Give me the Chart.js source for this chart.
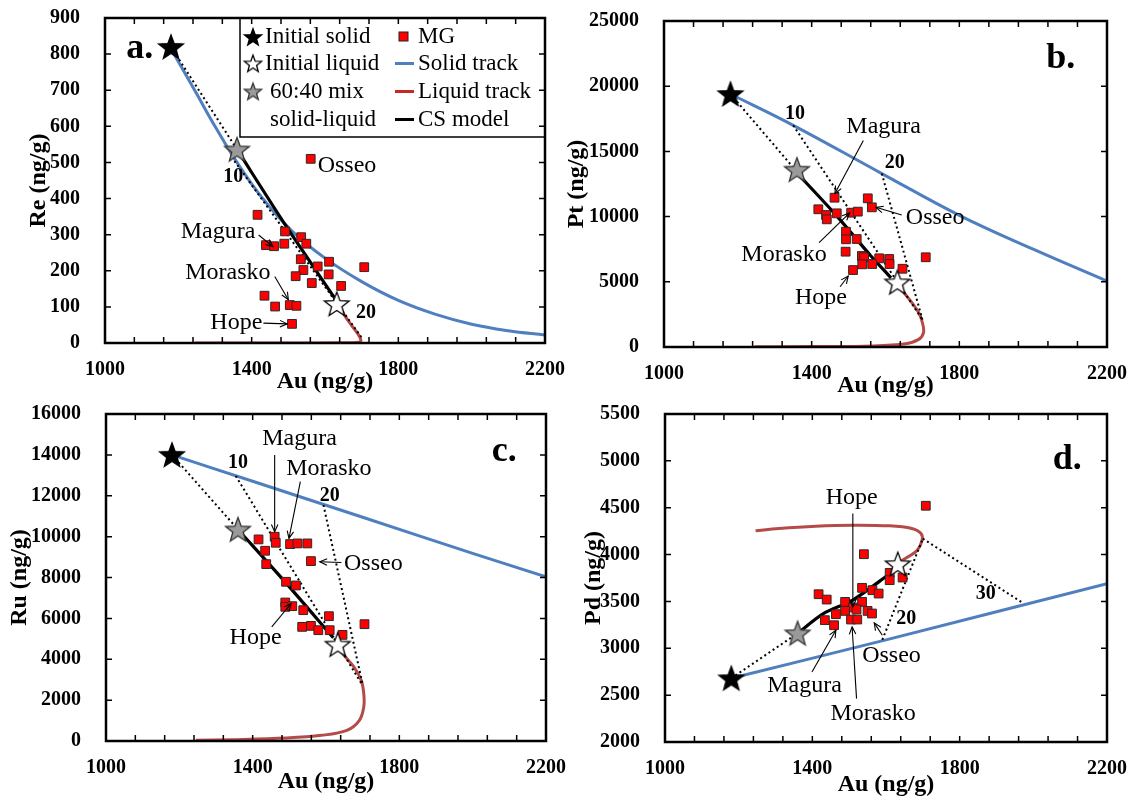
<!DOCTYPE html>
<html>
<head>
<meta charset="utf-8">
<script src="https://cdn.jsdelivr.net/npm/chart.js@4/dist/chart.umd.min.js"></script>
<style>
  html, body { margin: 0; padding: 0; background: #fff; }
  #wrap { position: relative; width: 1137px; height: 804px; overflow: hidden; background: #fff; }
  canvas { position: absolute; }
</style>
</head>
<body>
<div id="wrap">
  <canvas id="chartA" width="580" height="400" style="left:0;top:0"></canvas>
  <canvas id="chartB" width="577" height="400" style="left:560px;top:0"></canvas>
  <canvas id="chartC" width="580" height="404" style="left:0;top:400px"></canvas>
  <canvas id="chartD" width="577" height="404" style="left:560px;top:400px"></canvas>
</div>
<script>
const FONT = '"Liberation Serif", "Times New Roman", serif';
const BLUE = '#4f7fbf';
const RED = '#b44b48';

// x axis (Au, ng/g)
const xMin = 1000, xMax = 2200, xMinorStep = 80;
const xLabels = [1000, 1400, 1800, 2200];

// stars: initial solid, 60:40 mix, initial liquid
const starAu = [1180, 1360, 1632];
const starRe = [820, 536, 108];
const starPt = [19400, 13600, 4960];
const starRu = [14000, 10350, 4718];
const starPd = [2680, 3160, 3898];

// MG samples
const mgAuA = [1561, 1416, 1491, 1439, 1461, 1489, 1535, 1549, 1534, 1611, 1580, 1541, 1520, 1610, 1707, 1564, 1644, 1435, 1464, 1504, 1522, 1510];
const mgReA = [510, 355, 309, 271, 268, 275, 293, 275, 232, 225, 212, 202, 185, 190, 210, 166, 158, 131, 101, 105, 103, 53];

const mgAuB = [1462, 1552, 1563, 1418, 1439, 1441, 1468, 1507, 1525, 1493, 1493, 1522, 1492, 1536, 1542, 1583, 1610, 1611, 1537, 1564, 1512, 1646, 1709];
const mgPtB = [11450, 11400, 10710, 10560, 10120, 9790, 10250, 10300, 10380, 8840, 8260, 8280, 7310, 6980, 6880, 6800, 6750, 6365, 6340, 6365, 5900, 6000, 6880];

const mgAuC = [1416, 1460, 1463, 1434, 1437, 1502, 1522, 1549, 1559, 1491, 1518, 1489, 1489, 1508, 1538, 1608, 1705, 1535, 1559, 1579, 1610, 1645];
const mgRuC = [9863, 9994, 9700, 9308, 8655, 9635, 9667, 9667, 8802, 7790, 7610, 6777, 6565, 6597, 6401, 6107, 5716, 5585, 5634, 5422, 5422, 5193];

const mgAuD = [1708, 1540, 1417, 1439, 1535, 1563, 1580, 1610, 1610, 1645, 1489, 1535, 1510, 1520, 1489, 1550, 1562, 1464, 1434, 1459, 1505, 1522];
const mgPdD = [4521, 4004, 3577, 3520, 3645, 3620, 3584, 3805, 3727, 3755, 3495, 3495, 3435, 3414, 3399, 3399, 3371, 3364, 3300, 3246, 3307, 3307];

// model tracks, [Au, element] pairs
const solidTrackA = [[1180, 815], [1250, 690], [1300, 600], [1360, 500], [1430, 400], [1510, 310], [1600, 235], [1700, 170], [1800, 118], [1900, 80], [2000, 52], [2100, 34], [2200, 22]];
const liquidTrackA = [[1635, 108], [1650, 82], [1670, 52], [1688, 28], [1698, 8], [1692, 2], [1640, 0.5], [1500, 0], [1245, 0]];
const csModelA = [[1360, 536], [1495, 322], [1628, 122]];
const tieLinesA = [[[1180, 820], [1360, 536]], [[1345, 515], [1700, 15]]];

const solidTrackB = [[1180, 19400], [1350, 17000], [1590, 13300], [1800, 10100], [2000, 7500], [2200, 5050]];
const liquidTrackB = [[1627, 4960], [1665, 3640], [1690, 2620], [1700, 1860], [1703, 1100], [1690, 585], [1655, 255], [1565, 80], [1400, 30], [1245, 15]];
const csModelB = [[1355, 13500], [1460, 10300], [1560, 7000], [1615, 5300]];
const tieLinesB = [[[1180, 19400], [1355, 13600]], [[1350, 17000], [1700, 2100]], [[1590, 13300], [1700, 2100]]];

const solidTrackC = [[1180, 14000], [1400, 12710], [1700, 10950], [2000, 9180], [2200, 8030]];
const liquidTrackC = [[1632, 4718], [1642, 4360], [1676, 3625], [1696, 2972], [1703, 2319], [1703, 1666], [1691, 1012], [1657, 522], [1588, 278], [1491, 147], [1344, 65], [1245, 33]];
const csModelC = [[1360, 10350], [1490, 7750], [1620, 5050]];
const tieLinesC = [[[1180, 14000], [1360, 10350]], [[1354, 12970], [1697, 2800]], [[1593, 11550], [1700, 2750]]];

const solidTrackD = [[1180, 2680], [1600, 3090], [2200, 3690]];
const liquidTrackD = [[1627, 3898], [1660, 3976], [1685, 4047], [1698, 4154], [1695, 4225], [1670, 4278], [1610, 4307], [1509, 4314], [1409, 4303], [1309, 4278], [1246, 4253]];
const csModelD = [[1360, 3160], [1430, 3370], [1510, 3515], [1612, 3800]];
const tieLinesD = [[[1180, 2680], [1360, 3160]], [[1590, 3090], [1700, 4170]], [[1700, 4170], [1967, 3495]]];

// crystallisation step labels
const stepLabelsA = [{ text: '10', at: [1350, 460] }, { text: '20', at: [1712, 83] }];
const stepLabelsB = [{ text: '10', at: [1355, 17900] }, { text: '20', at: [1625, 14100] }];
const stepLabelsC = [{ text: '10', at: [1360, 13620] }, { text: '20', at: [1610, 11990] }];
const stepLabelsD = [{ text: '30', at: [1871, 3584] }, { text: '20', at: [1655, 3317] }];

// sample name labels with arrows
const notesA = [
  { text: 'Osseo', at: [1580, 492], align: 'left' },
  { text: 'Magura', at: [1410, 308], align: 'right', arrow: [[1419, 299], [1458, 267]] },
  { text: 'Morasko', at: [1335, 195], arrow: [[1463, 184], [1500, 120]] },
  { text: 'Hope', at: [1429, 55], align: 'right', arrow: [[1432, 55], [1497, 53]] }
];
const notesB = [
  { text: 'Magura', at: [1595, 16860], arrow: [[1540, 15843], [1463, 11774]] },
  { text: 'Osseo', at: [1655, 9900], align: 'left', arrow: [[1644, 10120], [1574, 10710]] },
  { text: 'Morasko', at: [1325, 7060], arrow: [[1420, 8000], [1503, 10280]] },
  { text: 'Hope', at: [1425, 3760], arrow: [[1477, 4620], [1499, 5445]] }
];
const notesC = [
  { text: 'Magura', at: [1528, 14812], arrow: [[1460, 13995], [1460, 10239]] },
  { text: 'Morasko', at: [1608, 13309], arrow: [[1530, 12688], [1499, 9912]] },
  { text: 'Osseo', at: [1649, 8688], align: 'left', arrow: [[1642, 8737], [1583, 8769]] },
  { text: 'Hope', at: [1408, 5062], arrow: [[1452, 5585], [1505, 6728]] }
];
const notesD = [
  { text: 'Hope', at: [1507, 4610], arrow: [[1510, 4439], [1510, 3442]] },
  { text: 'Magura', at: [1379, 2605], arrow: [[1399, 2748], [1464, 3193]] },
  { text: 'Morasko', at: [1565, 2303], arrow: [[1520, 2463], [1508, 3228]] },
  { text: 'Osseo', at: [1615, 2926], arrow: [[1590, 3139], [1568, 3271]] }
];

function starImage(r, fill, stroke) {
  const c = document.createElement('canvas');
  const s = Math.ceil(r * 2 + 4);
  c.width = s; c.height = s;
  const g = c.getContext('2d');
  g.translate(s / 2, s / 2 + r * 0.08);
  g.beginPath();
  for (let i = 0; i < 10; i++) {
    const rad = i % 2 === 0 ? r : r * 0.42;
    const a = -Math.PI / 2 + i * Math.PI / 5;
    g.lineTo(rad * Math.cos(a), rad * Math.sin(a));
  }
  g.closePath();
  g.fillStyle = fill;
  g.fill();
  g.lineWidth = 1.3;
  g.strokeStyle = stroke;
  g.lineJoin = 'miter';
  g.stroke();
  return c;
}

const starSolid = starImage(13, '#000', '#000');
const starMix = starImage(13, '#9a9a9a', '#333');
const starLiquid = starImage(13, '#fff', '#000');
const legSolid = starImage(9, '#000', '#000');
const legMix = starImage(9, '#9a9a9a', '#333');
const legLiquid = starImage(9, '#fff', '#000');

function drawArrow(ctx, x1, y1, x2, y2) {
  ctx.beginPath();
  ctx.moveTo(x1, y1);
  ctx.lineTo(x2, y2);
  ctx.stroke();
  const ang = Math.atan2(y2 - y1, x2 - x1), h = 8;
  ctx.beginPath();
  ctx.moveTo(x2 - h * Math.cos(ang - 0.42), y2 - h * Math.sin(ang - 0.42));
  ctx.lineTo(x2, y2);
  ctx.lineTo(x2 - h * Math.cos(ang + 0.42), y2 - h * Math.sin(ang + 0.42));
  ctx.stroke();
}

function drawLegend(chart) {
  const { ctx, chartArea: a } = chart;
  const L = a.left + 135, T = a.top, R = a.right, B = a.top + 119;
  ctx.save();
  ctx.fillStyle = '#fff';
  ctx.fillRect(L, T, R - L, B - T);
  ctx.strokeStyle = '#000';
  ctx.lineWidth = 1.5;
  ctx.strokeRect(L, T, R - L, B - T);
  ctx.font = '23px ' + FONT;
  ctx.fillStyle = '#000';
  ctx.textAlign = 'left';
  ctx.textBaseline = 'middle';
  const rows = [T + 19, T + 45.5, T + 73.5, T + 101.5];
  const imgs = [legSolid, legLiquid, legMix];
  imgs.forEach((im, i) => ctx.drawImage(im, L + 13 - im.width / 2, rows[i] - im.height / 2));
  ctx.fillText('Initial solid', L + 25, rows[0]);
  ctx.fillText('Initial liquid', L + 25, rows[1]);
  ctx.fillText('60:40 mix', L + 30, rows[2]);
  ctx.fillText('solid-liquid', L + 30, rows[3]);
  // right column
  ctx.fillStyle = '#ff0000';
  ctx.fillRect(L + 159, rows[0] - 5, 9, 9);
  ctx.strokeStyle = '#222';
  ctx.lineWidth = 1;
  ctx.strokeRect(L + 159, rows[0] - 5, 9, 9);
  ctx.lineWidth = 3;
  [[BLUE, rows[1]], ['#c62828', rows[2]], ['#000', rows[3]]].forEach(([c, y]) => {
    ctx.strokeStyle = c;
    ctx.beginPath();
    ctx.moveTo(L + 155, y);
    ctx.lineTo(L + 174, y);
    ctx.stroke();
  });
  ctx.fillStyle = '#000';
  ctx.fillText('MG', L + 178, rows[0]);
  ctx.fillText('Solid track', L + 178, rows[1]);
  ctx.fillText('Liquid track', L + 178, rows[2]);
  ctx.fillText('CS model', L + 178, rows[3]);
  ctx.restore();
}

function drawFrame(chart) {
  const { ctx, chartArea: a } = chart;
  const xs = chart.scales.x, ys = chart.scales.y;
  ctx.save();
  ctx.strokeStyle = '#000';
  ctx.lineWidth = 1.5;
  ctx.beginPath();
  xs.ticks.forEach(t => {
    const x = xs.getPixelForValue(t.value);
    if (x <= a.left + 2 || x >= a.right - 2) return;
    ctx.moveTo(x, a.bottom); ctx.lineTo(x, a.bottom - 6);
    ctx.moveTo(x, a.top); ctx.lineTo(x, a.top + 6);
  });
  ys.ticks.forEach(t => {
    const y = ys.getPixelForValue(t.value);
    if (y <= a.top + 2 || y >= a.bottom - 2) return;
    ctx.moveTo(a.left, y); ctx.lineTo(a.left + 6, y);
    ctx.moveTo(a.right, y); ctx.lineTo(a.right - 6, y);
  });
  ctx.stroke();
  ctx.lineWidth = 2.5;
  ctx.strokeRect(a.left, a.top, a.right - a.left, a.bottom - a.top);
  ctx.restore();
}

function panelPlugin(p) {
  return {
    id: 'panel' + p.id,
    afterDatasetsDraw(chart) {
      const { ctx } = chart;
      const xs = chart.scales.x, ys = chart.scales.y;
      const px = v => xs.getPixelForValue(v), py = v => ys.getPixelForValue(v);
      ctx.save();
      ctx.fillStyle = '#000';
      ctx.strokeStyle = '#000';
      ctx.textBaseline = 'middle';
      ctx.font = 'bold 20px ' + FONT;
      ctx.textAlign = 'center';
      p.steps.forEach(s => ctx.fillText(s.text, px(s.at[0]), py(s.at[1])));
      ctx.font = '24px ' + FONT;
      ctx.lineWidth = 1.1;
      p.notes.forEach(n => {
        ctx.textAlign = n.align || 'center';
        ctx.fillText(n.text, px(n.at[0]), py(n.at[1]));
        if (n.arrow) drawArrow(ctx, px(n.arrow[0][0]), py(n.arrow[0][1]), px(n.arrow[1][0]), py(n.arrow[1][1]));
      });
      ctx.font = 'bold 36px ' + FONT;
      ctx.textAlign = 'center';
      ctx.fillText(p.letter, px(p.letterAt[0]), py(p.letterAt[1]));
      ctx.restore();
      if (p.legend) drawLegend(chart);
      drawFrame(chart);
    }
  };
}

const pts = arr => arr.map(([x, y]) => ({ x, y }));

function buildPanel(p) {
  const datasets = [
    {
      label: 'stars',
      data: starAu.map((x, i) => ({ x, y: p.starY[i] })),
      pointStyle: [starSolid, starMix, starLiquid],
      pointRadius: 10,
      showLine: false
    },
    {
      label: 'MG',
      data: p.mgAu.map((x, i) => ({ x, y: p.mgY[i] })),
      pointStyle: 'rect',
      pointRadius: 6.2,
      backgroundColor: '#ff0000',
      borderColor: '#2a2a2a',
      borderWidth: 1,
      showLine: false
    },
    {
      label: 'CS model',
      data: pts(p.cs),
      showLine: true,
      borderColor: '#000',
      borderWidth: 3.2,
      pointRadius: 0,
      tension: 0.3
    }
  ];
  p.ties.forEach((t, i) => datasets.push({
    label: 'tie' + i,
    data: pts(t),
    showLine: true,
    borderColor: '#000',
    borderWidth: 2,
    borderDash: [2, 3],
    pointRadius: 0,
    tension: 0
  }));
  datasets.push({
    label: 'Solid track',
    data: pts(p.solid),
    showLine: true,
    borderColor: BLUE,
    borderWidth: 3,
    pointRadius: 0,
    tension: 0.4
  });
  datasets.push({
    label: 'Liquid track',
    data: pts(p.liquid),
    showLine: true,
    borderColor: RED,
    borderWidth: 3,
    pointRadius: 0,
    tension: 0.35
  });

  const area = p.area;
  return new Chart(document.getElementById(p.id), {
    type: 'scatter',
    data: { datasets },
    options: {
      responsive: false,
      animation: false,
      events: [],
      layout: { padding: { left: 0, top: area.t, right: p.W - area.r, bottom: 0 } },
      plugins: { legend: { display: false }, tooltip: { enabled: false } },
      scales: {
        x: {
          type: 'linear',
          min: xMin, max: xMax,
          grid: { display: false },
          border: { display: false },
          ticks: {
            stepSize: xMinorStep,
            autoSkip: false,
            maxRotation: 0,
            padding: 7,
            color: '#000',
            font: { family: FONT, size: 20, weight: 'bold' },
            callback: v => xLabels.includes(v) ? String(v) : ''
          },
          title: {
            display: true,
            text: 'Au (ng/g)',
            color: '#000',
            font: { family: FONT, size: 24, weight: 'bold' },
            padding: { top: 0, bottom: p.xTitlePad }
          },
          afterFit: s => {
            s.height = p.H - area.b;
            s.paddingLeft = 0;
            s.paddingRight = 0;
          }
        },
        y: {
          type: 'linear',
          min: p.yMin, max: p.yMax,
          grid: { display: false },
          border: { display: false },
          ticks: {
            stepSize: p.yStep,
            padding: 17,
            color: '#000',
            font: { family: FONT, size: 20, weight: 'bold' },
            callback: v => String(v)
          },
          title: {
            display: true,
            text: p.yTitle,
            color: '#000',
            font: { family: FONT, size: 24, weight: 'bold' },
            padding: { top: p.yTitlePad, bottom: 0 }
          },
          afterFit: s => {
            s.width = area.l;
            s.paddingTop = 0;
            s.paddingBottom = 0;
          }
        }
      }
    },
    plugins: [panelPlugin(p)]
  });
}

const panels = [
  { id: 'chartA', W: 580, H: 400, area: { l: 105, t: 18, r: 545, b: 343 }, yTitle: 'Re (ng/g)', yTitlePad: 24.6, xTitlePad: 3.6,
    yMin: 0, yMax: 900, yStep: 100, mgAu: mgAuA, mgY: mgReA, starY: starRe,
    solid: solidTrackA, liquid: liquidTrackA, cs: csModelA, ties: tieLinesA, steps: stepLabelsA, notes: notesA,
    letter: 'a.', letterAt: [1095, 814], legend: true },
  { id: 'chartB', W: 577, H: 400, area: { l: 104, t: 21, r: 547, b: 347 }, yTitle: 'Pt (ng/g)', yTitlePad: 2.6, xTitlePad: 0,
    yMin: 0, yMax: 25000, yStep: 5000, mgAu: mgAuB, mgY: mgPtB, starY: starPt,
    solid: solidTrackB, liquid: liquidTrackB, cs: csModelB, ties: tieLinesB, steps: stepLabelsB, notes: notesB,
    letter: 'b.', letterAt: [2075, 22074] },
  { id: 'chartC', W: 580, H: 404, area: { l: 106, t: 14, r: 546, b: 341 }, yTitle: 'Ru (ng/g)', yTitlePad: 5.6, xTitlePad: 7.6,
    yMin: 0, yMax: 16000, yStep: 2000, mgAu: mgAuC, mgY: mgRuC, starY: starRu,
    solid: solidTrackC, liquid: liquidTrackC, cs: csModelC, ties: tieLinesC, steps: stepLabelsC, notes: notesC,
    letter: 'c.', letterAt: [2086, 14157] },
  { id: 'chartD', W: 577, H: 404, area: { l: 105, t: 14, r: 547, b: 342 }, yTitle: 'Pd (ng/g)', yTitlePad: 19.6, xTitlePad: 4.6,
    yMin: 2000, yMax: 5500, yStep: 500, mgAu: mgAuD, mgY: mgPdD, starY: starPd,
    solid: solidTrackD, liquid: liquidTrackD, cs: csModelD, ties: tieLinesD, steps: stepLabelsD, notes: notesD,
    letter: 'd.', letterAt: [2092, 5008] }
];

panels.forEach(buildPanel);
</script>
</body>
</html>
